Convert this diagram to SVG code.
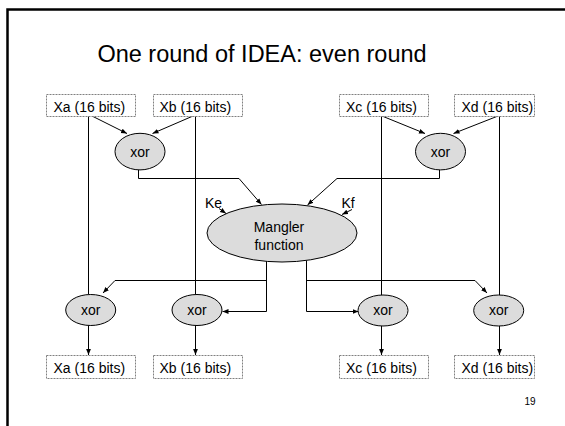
<svg xmlns="http://www.w3.org/2000/svg" width="565" height="426" viewBox="0 0 565 426">
  <defs>
    <marker id="arrow" markerUnits="userSpaceOnUse" markerWidth="6" markerHeight="6" viewBox="0 0 6 6" refX="6" refY="3" orient="auto">
      <path d="M0,0.6 L6,3 L0,5.4 Z" fill="#000"/>
    </marker>
    <style>
      .box { fill: #fff; stroke: #808080; stroke-width: 1; stroke-dasharray: 2 1; }
      .op { fill: #dcdcdc; stroke: #000; stroke-width: 1; }
      .lbl { font-family: "Liberation Sans", Arial, sans-serif; font-size: 14px; fill: #000; }
      .mid { text-anchor: middle; }
      .wire { fill: none; stroke: #000; stroke-width: 1; }
      .arr { marker-end: url(#arrow); }
    </style>
  </defs>

  <rect width="565" height="426" fill="#fff"/>
  <!-- slide frame -->
  <path d="M7.5,426 V9.5 H565" fill="none" stroke="#000" stroke-width="2.5"/>

  <text x="262" y="62" class="mid" font-family="'Liberation Sans', Arial, sans-serif" font-size="23.5" fill="#000">One round of IDEA: even round</text>

  <!-- connectors -->
  <g id="connectors">
    <path class="wire" d="M88.5,116 V294"/>
    <path class="wire arr" d="M92,116 L127,133.5"/>
    <path class="wire arr" d="M193,116 L152.5,133.5"/>
    <path class="wire" d="M195.5,116 V294"/>
    <path class="wire arr" d="M138.5,170 V178.5 H239 L261.5,204.5"/>
    <path class="wire arr" d="M439.5,170 V178.5 H337 L307.5,205"/>
    <path class="wire" d="M381.5,116 V295"/>
    <path class="wire arr" d="M382,116 L425,133.5"/>
    <path class="wire arr" d="M498,116 L453.5,133.5"/>
    <path class="wire" d="M499.5,116 V295"/>
    <path class="wire arr" d="M219,208.5 L226,213.5"/>
    <path class="wire arr" d="M352,209.5 L342,214.5"/>
    <path class="wire arr" d="M266.5,261 V311.5 H222.5"/>
    <path class="wire arr" d="M266.5,280.5 H115 L103,293"/>
    <path class="wire arr" d="M306.5,260.5 V311.5 H358.5"/>
    <path class="wire arr" d="M306.5,280.5 H475 L487,293"/>
    <path class="wire arr" d="M88.5,325 V355"/>
    <path class="wire arr" d="M195.5,325 V355"/>
    <path class="wire arr" d="M381.5,326 V355"/>
    <path class="wire arr" d="M499.5,326 V355"/>
  </g>

  <!-- inputs -->
  <g id="in-xa"><rect class="box" x="46.5" y="94.5" width="89" height="22"/><text class="lbl" x="53.5" y="111.5">Xa (16 bits)</text></g>
  <g id="in-xb"><rect class="box" x="153.5" y="94.5" width="89" height="22"/><text class="lbl" x="159.5" y="111.5">Xb (16 bits)</text></g>
  <g id="in-xc"><rect class="box" x="339.5" y="94.5" width="89" height="22"/><text class="lbl" x="346" y="111.5">Xc (16 bits)</text></g>
  <g id="in-xd"><rect class="box" x="454.5" y="94.5" width="80" height="22"/><text class="lbl" x="461.5" y="111.5">Xd (16 bits)</text></g>

  <!-- first xor layer -->
  <g id="xor-ab"><ellipse class="op" cx="140" cy="151.6" rx="25" ry="18.3"/><text class="lbl mid" x="140" y="156.5">xor</text></g>
  <g id="xor-cd"><ellipse class="op" cx="440.5" cy="151.6" rx="25" ry="18.3"/><text class="lbl mid" x="440.5" y="156.5">xor</text></g>

  <!-- mangler -->
  <g id="mangler">
    <ellipse class="op" cx="282" cy="233" rx="75" ry="29"/>
    <text class="lbl mid" x="279" y="232">Mangler</text>
    <text class="lbl mid" x="279" y="249.5">function</text>
  </g>
  <g id="key-e"><text class="lbl" x="205" y="208">Ke</text></g>
  <g id="key-f"><text class="lbl" x="341.5" y="208">Kf</text></g>

  <!-- second xor layer -->
  <g id="xor-a"><ellipse class="op" cx="90.7" cy="310" rx="25" ry="15.5"/><text class="lbl mid" x="90.7" y="314.5">xor</text></g>
  <g id="xor-b"><ellipse class="op" cx="197" cy="310" rx="25" ry="15.5"/><text class="lbl mid" x="197" y="314.5">xor</text></g>
  <g id="xor-c"><ellipse class="op" cx="383" cy="310.5" rx="25" ry="15.5"/><text class="lbl mid" x="383" y="315">xor</text></g>
  <g id="xor-d"><ellipse class="op" cx="498.7" cy="310.5" rx="25" ry="15.5"/><text class="lbl mid" x="498.7" y="315">xor</text></g>

  <!-- outputs -->
  <g id="out-xa"><rect class="box" x="46.5" y="355.5" width="89" height="23"/><text class="lbl" x="53.5" y="372.5">Xa (16 bits)</text></g>
  <g id="out-xb"><rect class="box" x="153.5" y="355.5" width="89" height="23"/><text class="lbl" x="159.5" y="372.5">Xb (16 bits)</text></g>
  <g id="out-xc"><rect class="box" x="339.5" y="355.5" width="89" height="23"/><text class="lbl" x="346" y="372.5">Xc (16 bits)</text></g>
  <g id="out-xd"><rect class="box" x="454.5" y="355.5" width="80" height="23"/><text class="lbl" x="461.5" y="372.5">Xd (16 bits)</text></g>

  <text x="530" y="405" class="mid" font-family="'Liberation Sans', Arial, sans-serif" font-size="10" fill="#000">19</text>
</svg>
